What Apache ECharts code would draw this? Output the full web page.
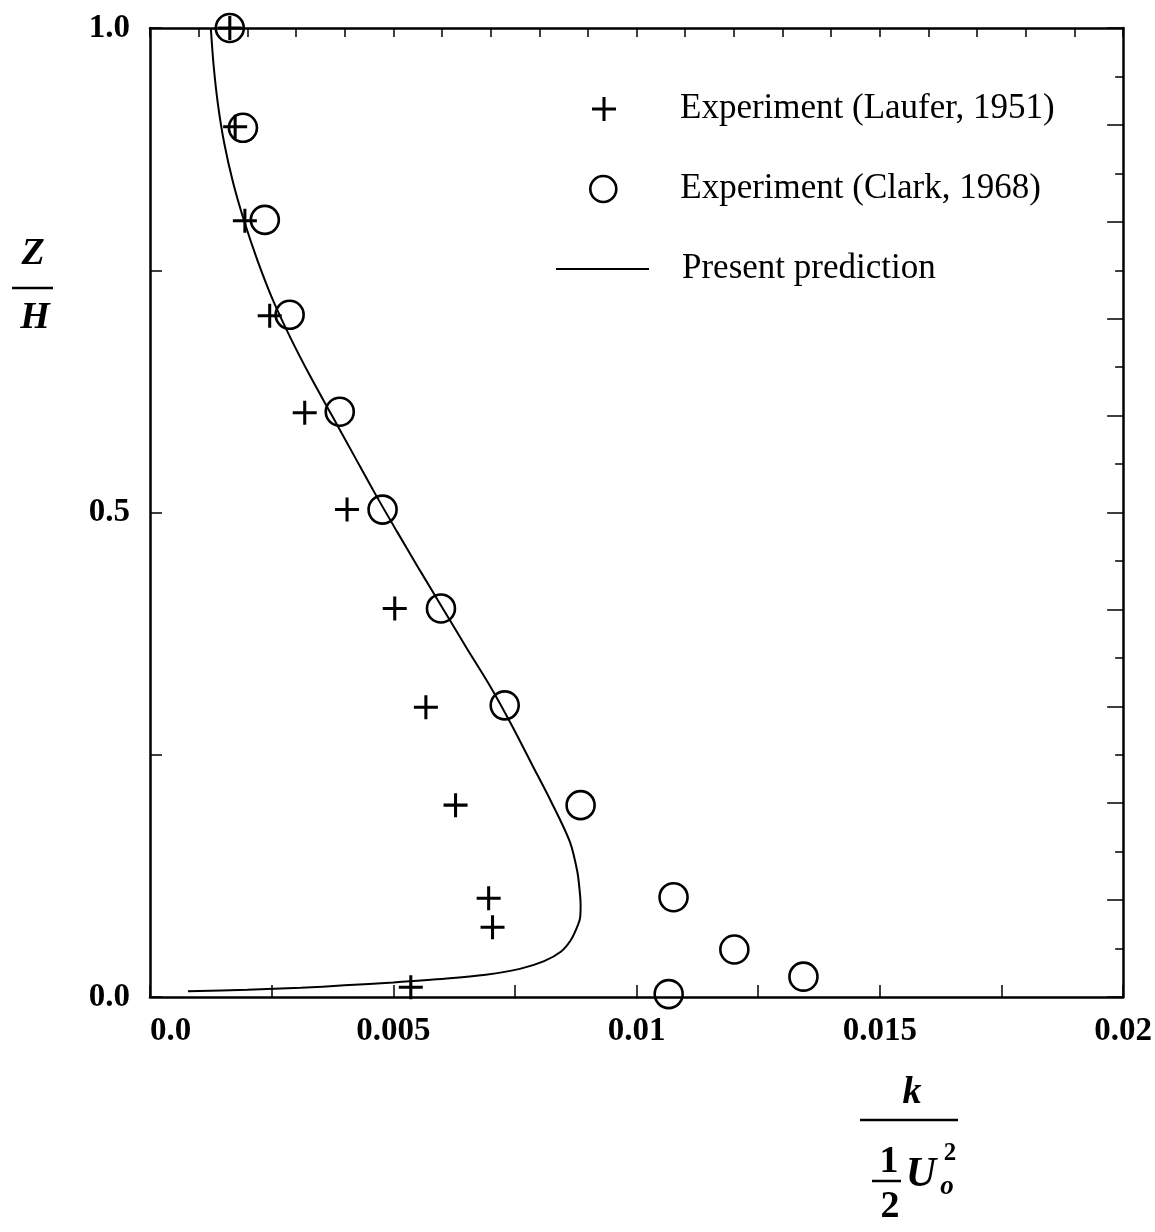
<!DOCTYPE html>
<html>
<head>
<meta charset="utf-8">
<script src="https://cdn.jsdelivr.net/npm/echarts@6/dist/echarts.min.js"></script>
<style>
html,body{margin:0;padding:0;background:#fff;}
#chart{width:1155px;height:1232px;}
</style>
</head>
<body>
<div id="chart"></div>
<script>
// ---- data ----
const seriesNames = ['Experiment (Laufer, 1951)', 'Experiment (Clark, 1968)', 'Present prediction'];

const lauferK = [0.00164, 0.00175, 0.00195, 0.00246, 0.00318, 0.00405, 0.00503, 0.00567, 0.00628, 0.00696, 0.00704, 0.00536];
const lauferZ = [1.0, 0.898, 0.801, 0.703, 0.603, 0.503, 0.401, 0.299, 0.198, 0.102, 0.072, 0.010];

const clarkK = [0.00164, 0.00191, 0.00236, 0.00287, 0.00390, 0.00478, 0.00598, 0.00729, 0.00885, 0.01076, 0.01201, 0.01343, 0.01066];
const clarkZ = [1.0, 0.897, 0.802, 0.704, 0.604, 0.503, 0.401, 0.301, 0.198, 0.103, 0.049, 0.021, 0.003];

const predK = [0.00125, 0.00131, 0.00140, 0.00153, 0.00171, 0.00194, 0.00221, 0.00252, 0.00289, 0.00330, 0.00374, 0.00418, 0.00462, 0.00508, 0.00555, 0.00603, 0.00651, 0.00700, 0.00744, 0.00785, 0.00826, 0.00863, 0.00878, 0.00883, 0.00885, 0.00884, 0.00876, 0.00864, 0.00845, 0.00810, 0.00760, 0.00690, 0.00610, 0.00500, 0.00400, 0.00310, 0.00200, 0.00078];
const predZ = [1.000, 0.960, 0.920, 0.880, 0.840, 0.800, 0.760, 0.720, 0.680, 0.640, 0.600, 0.560, 0.520, 0.480, 0.440, 0.400, 0.360, 0.320, 0.280, 0.240, 0.200, 0.160, 0.130, 0.110, 0.095, 0.082, 0.070, 0.058, 0.047, 0.037, 0.029, 0.023, 0.019, 0.015, 0.012, 0.0095, 0.0075, 0.006];

const xTickLabels = ['0.0', '0.005', '0.01', '0.015', '0.02'];
const yTickLabels = ['0.0', '0.5', '1.0'];

// ---- chart ----
const FONT = "'Liberation Serif', 'Times New Roman', serif";
const crossPath = 'path://M9.6,0 L12.4,0 L12.4,9.6 L22,9.6 L22,12.4 L12.4,12.4 L12.4,22 L9.6,22 L9.6,12.4 L0,12.4 L0,9.6 L9.6,9.6 Z';

const zip = (a, b) => a.map((v, i) => [v, b[i]]);

const chart = echarts.init(document.getElementById('chart'), null, {renderer: 'canvas'});

const axisLine = {show: true, onZero: false, lineStyle: {color: '#000', width: 2.5}};
const legendText = (pad) => ({fontFamily: FONT, fontSize: 35, color: '#000', lineHeight: 36, padding: [0, 0, 0, pad]});

chart.setOption({
  backgroundColor: '#fff',
  animation: false,
  grid: {left: 150, top: 28, width: 974, height: 969, containLabel: false},
  legend: [
    {
      data: [{name: seriesNames[0], icon: crossPath, itemStyle: {color: '#000', opacity: 1}}],
      left: 587, top: 86, itemWidth: 24, itemHeight: 24, selectedMode: false,
      textStyle: legendText(59)
    },
    {
      data: [{name: seriesNames[1], icon: 'circle', itemStyle: {color: 'rgba(255,255,255,0)', borderColor: '#000', borderWidth: 2.6, opacity: 1}}],
      left: 584, top: 166, itemWidth: 26, itemHeight: 26, selectedMode: false,
      textStyle: legendText(59)
    },
    {
      data: [{name: seriesNames[2], icon: 'rect', itemStyle: {color: '#000', opacity: 1}}],
      left: 551, top: 246, itemWidth: 93, itemHeight: 2, selectedMode: false,
      textStyle: legendText(28)
    }
  ],
  xAxis: [
    {
      type: 'value', position: 'bottom', min: 0, max: 0.02, interval: 0.005,
      axisLine: axisLine,
      axisTick: {show: true, inside: true, length: 12, lineStyle: {color: '#000', width: 1.5}},
      minorTick: {show: true, splitNumber: 2, length: 12, lineStyle: {color: '#000', width: 1.5}},
      splitLine: {show: false}, minorSplitLine: {show: false},
      axisLabel: {
        margin: 18, color: '#000', fontFamily: FONT, fontWeight: 'bold', fontSize: 33,
        alignMinLabel: 'left',
        formatter: (v) => xTickLabels[Math.round(v / 0.005)]
      }
    },
    {
      type: 'value', position: 'top', min: 0, max: 0.02, interval: 0.001,
      axisLine: axisLine,
      axisTick: {show: true, inside: true, length: 9, lineStyle: {color: '#000', width: 1.5}},
      splitLine: {show: false},
      axisLabel: {show: false}
    }
  ],
  yAxis: [
    {
      type: 'value', position: 'left', min: 0, max: 1, interval: 0.5,
      axisLine: axisLine,
      axisTick: {show: true, inside: true, length: 12, lineStyle: {color: '#000', width: 1.5}},
      minorTick: {show: true, splitNumber: 2, length: 12, lineStyle: {color: '#000', width: 1.5}},
      splitLine: {show: false}, minorSplitLine: {show: false},
      axisLabel: {
        margin: 20, color: '#000', fontFamily: FONT, fontWeight: 'bold', fontSize: 33,
        formatter: (v) => yTickLabels[Math.round(v / 0.5)]
      }
    },
    {
      type: 'value', position: 'right', min: 0, max: 1, interval: 0.1,
      axisLine: axisLine,
      axisTick: {show: true, inside: true, length: 16, lineStyle: {color: '#000', width: 1.5}},
      minorTick: {show: true, splitNumber: 2, length: 8, lineStyle: {color: '#000', width: 1.5}},
      splitLine: {show: false}, minorSplitLine: {show: false},
      axisLabel: {show: false}
    }
  ],
  series: [
    {
      name: seriesNames[2], type: 'line', xAxisIndex: 0, yAxisIndex: 0,
      data: zip(predK, predZ), smooth: 0.3, symbol: 'none',
      lineStyle: {color: '#000', width: 2}, itemStyle: {color: '#000'}, z: 2
    },
    {
      name: seriesNames[1], type: 'scatter', xAxisIndex: 0, yAxisIndex: 0,
      data: zip(clarkK, clarkZ), symbol: 'circle', symbolSize: 28,
      itemStyle: {color: 'rgba(255,255,255,0)', borderColor: '#000', borderWidth: 2.6, opacity: 1}, z: 3
    },
    {
      name: seriesNames[0], type: 'scatter', xAxisIndex: 0, yAxisIndex: 0,
      data: zip(lauferK, lauferZ), symbol: crossPath, symbolSize: 24,
      itemStyle: {color: '#000', opacity: 1}, z: 4
    }
  ],
  graphic: [
    {type: 'text', x: 33, y: 254, style: {text: 'Z', fontFamily: FONT, fontSize: 38, fontWeight: 'bold', fontStyle: 'italic', fill: '#000', align: 'center', verticalAlign: 'middle'}},
    {type: 'line', shape: {x1: 12, y1: 288, x2: 53, y2: 288}, style: {stroke: '#000', lineWidth: 2.5}},
    {type: 'text', x: 35, y: 318, style: {text: 'H', fontFamily: FONT, fontSize: 38, fontWeight: 'bold', fontStyle: 'italic', fill: '#000', align: 'center', verticalAlign: 'middle'}},

    {type: 'text', x: 912, y: 1093, style: {text: 'k', fontFamily: FONT, fontSize: 38, fontWeight: 'bold', fontStyle: 'italic', fill: '#000', align: 'center', verticalAlign: 'middle'}},
    {type: 'line', shape: {x1: 860, y1: 1120, x2: 958, y2: 1120}, style: {stroke: '#000', lineWidth: 2.5}},
    {type: 'text', x: 889, y: 1162, style: {text: '1', fontFamily: FONT, fontSize: 38, fontWeight: 'bold', fill: '#000', align: 'center', verticalAlign: 'middle'}},
    {type: 'line', shape: {x1: 872, y1: 1181, x2: 901, y2: 1181}, style: {stroke: '#000', lineWidth: 2.5}},
    {type: 'text', x: 890, y: 1207, style: {text: '2', fontFamily: FONT, fontSize: 38, fontWeight: 'bold', fill: '#000', align: 'center', verticalAlign: 'middle'}},
    {type: 'text', x: 921, y: 1175, style: {text: 'U', fontFamily: FONT, fontSize: 42, fontWeight: 'bold', fontStyle: 'italic', fill: '#000', align: 'center', verticalAlign: 'middle'}},
    {type: 'text', x: 950, y: 1154, style: {text: '2', fontFamily: FONT, fontSize: 25, fontWeight: 'bold', fill: '#000', align: 'center', verticalAlign: 'middle'}},
    {type: 'text', x: 947, y: 1187, style: {text: 'o', fontFamily: FONT, fontSize: 27, fontWeight: 'bold', fontStyle: 'italic', fill: '#000', align: 'center', verticalAlign: 'middle'}}
  ]
});
</script>
</body>
</html>
